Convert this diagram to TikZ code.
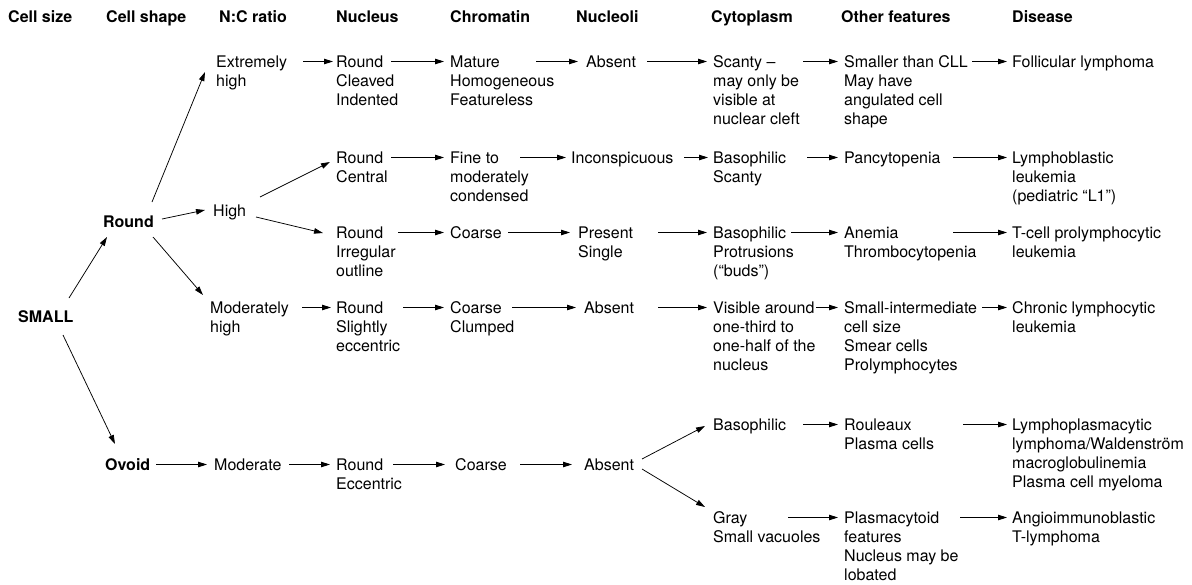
\documentclass[tikz,border=0pt]{standalone}
\usepackage{fontspec}
\setmainfont{TeX Gyre Heros}
\usetikzlibrary{arrows.meta}
\newcommand{\cellrows}[1]{\begin{tabular}[t]{@{}l@{}}#1\end{tabular}}

\begin{document}
\begin{tikzpicture}[x=1pt,y=-1pt,
    cell/.style={anchor=base west, inner sep=0pt, font=\fontsize{16}{19}\selectfont},
    head/.style={cell, font=\fontsize{16}{19}\selectfont\bfseries},
    arr/.style={-{Triangle[length=9pt,width=5.5pt]}, line width=0.75pt}]
        \useasboundingbox (0,0) rectangle (1192,584);
        % column heads
        \node[head] (hsize) at (8,22) {Cell size};
        \node[head] (hshape) at (106,22) {Cell shape};
        \node[head] (hratio) at (219,22) {N:C ratio};
        \node[head] (hnuc) at (336,22) {Nucleus};
        \node[head] (hchr) at (450,22) {Chromatin};
        \node[head] (hnuo) at (576,22) {Nucleoli};
        \node[head] (hcyt) at (711,22) {Cytoplasm};
        \node[head] (hoth) at (841,22) {Other features};
        \node[head] (hdis) at (1012,22) {Disease};
        % tree
        \node[head] (small) at (18,322) {SMALL};
        \node[head] (round) at (103,227) {Round};
        \node[head] (ovoid) at (105,470) {Ovoid};
        \node[cell] (ex) at (216,67) {\cellrows{Extremely\\high}};
        \node[cell] (high) at (213,216) {High};
        \node[cell] (mh) at (210,313) {\cellrows{Moderately\\high}};
        \node[cell] (mod) at (214,470) {Moderate};
        % extremely high
        \node[cell] (nuc1) at (336,67) {\cellrows{Round\\Cleaved\\Indented}};
        \node[cell] (chr1) at (450,67) {\cellrows{Mature\\Homogeneous\\Featureless}};
        \node[cell] (nuo1) at (586,67) {Absent};
        \node[cell] (cyt1) at (713,67) {\cellrows{Scanty –\\may only be\\visible at\\nuclear cleft}};
        \node[cell] (oth1) at (844,67) {\cellrows{Smaller than CLL\\May have\\angulated cell\\shape}};
        \node[cell] (dis1) at (1012,67) {Follicular lymphoma};
        % high, upper
        \node[cell] (nuc2) at (336,163) {\cellrows{Round\\Central}};
        \node[cell] (chr2) at (450,163) {\cellrows{Fine to\\moderately\\condensed}};
        \node[cell] (nuo2) at (571,163) {Inconspicuous};
        \node[cell] (cyt2) at (713,163) {\cellrows{Basophilic\\Scanty}};
        \node[cell] (oth2) at (844,163) {Pancytopenia};
        \node[cell] (dis2) at (1012,163) {\cellrows{Lymphoblastic\\leukemia\\(pediatric “L1”)}};
        % high, lower
        \node[cell] (nuc3) at (336,238) {\cellrows{Round\\Irregular\\outline}};
        \node[cell] (chr3) at (450,238) {Coarse};
        \node[cell] (nuo3) at (578,238) {\cellrows{Present\\Single}};
        \node[cell] (cyt3) at (713,238) {\cellrows{Basophilic\\Protrusions\\(“buds”)}};
        \node[cell] (oth3) at (844,238) {\cellrows{Anemia\\Thrombocytopenia}};
        \node[cell] (dis3) at (1012,238) {\cellrows{T-cell prolymphocytic\\leukemia}};
        % moderately high
        \node[cell] (nuc4) at (336,313) {\cellrows{Round\\Slightly\\eccentric}};
        \node[cell] (chr4) at (450,313) {\cellrows{Coarse\\Clumped}};
        \node[cell] (nuo4) at (584,313) {Absent};
        \node[cell] (cyt4) at (713,313) {\cellrows{Visible around\\one-third to\\one-half of the\\nucleus}};
        \node[cell] (oth4) at (844,313) {\cellrows{Small-intermediate\\cell size\\Smear cells\\Prolymphocytes}};
        \node[cell] (dis4) at (1012,313) {\cellrows{Chronic lymphocytic\\leukemia}};
        % ovoid
        \node[cell] (nuc5) at (336,470) {\cellrows{Round\\Eccentric}};
        \node[cell] (chr5) at (455,470) {Coarse};
        \node[cell] (nuo5) at (584,470) {Absent};
        \node[cell] (cyt5) at (713,430) {Basophilic};
        \node[cell] (oth5) at (844,430) {\cellrows{Rouleaux\\Plasma cells}};
        \node[cell] (dis5) at (1012,430) {\cellrows{Lymphoplasmacytic\\lymphoma/Waldenström\\macroglobulinemia\\Plasma cell myeloma}};
        \node[cell] (cyt6) at (713,523) {\cellrows{Gray\\Small vacuoles}};
        \node[cell] (oth6) at (844,523) {\cellrows{Plasmacytoid\\features\\Nucleus may be\\lobated}};
        \node[cell] (dis6) at (1012,523) {\cellrows{Angioimmunoblastic\\T-lymphoma}};
        % branches
        \draw[arr] ([shift={(51,-24)}]small.base west) -- ([shift={(4,10)}]round.base west);
        \draw[arr] ([shift={(45,13)}]small.base west) -- ([shift={(10,-26)}]ovoid.base west);
        \draw[arr] ([shift={(49,-25)}]round.base west) -- ([shift={(-11,5)}]ex.base west);
        \draw[arr] ([shift={(59,-8)}]round.base west) -- ([shift={(-8,-6)}]high.base west);
        \draw[arr] ([shift={(50,10)}]round.base west) -- ([shift={(-7,-18)}]mh.base west);
        \draw[arr] ([shift={(47,-19)}]high.base west) -- ([shift={(-6,-1)}]nuc2.base west);
        \draw[arr] ([shift={(43,1)}]high.base west) -- ([shift={(-13,-5)}]nuc3.base west);
        \draw[arr] ([shift={(58,-11)}]nuo5.base west) -- ([shift={(-8,-4)}]cyt5.base west);
        \draw[arr] ([shift={(58,-1)}]nuo5.base west) -- ([shift={(-8,-16)}]cyt6.base west);
        % row arrows
        \draw[arr] ([shift={(87,-5.5)}]ex.base west) -- ([shift={(-3,-5.5)}]nuc1.base west);
        \draw[arr] ([shift={(55,-5.5)}]nuc1.base west) -- ([shift={(-6,-5.5)}]chr1.base west);
        \draw[arr] ([shift={(86,-5.5)}]chr1.base west) -- ([shift={(-8,-5.5)}]nuo1.base west);
        \draw[arr] ([shift={(61,-5.5)}]nuo1.base west) -- ([shift={(-6,-5.5)}]cyt1.base west);
        \draw[arr] ([shift={(90,-5.5)}]cyt1.base west) -- ([shift={(-6,-5.5)}]oth1.base west);
        \draw[arr] ([shift={(128,-5.5)}]oth1.base west) -- ([shift={(-5,-5.5)}]dis1.base west);
        \draw[arr] ([shift={(55,-5.5)}]nuc2.base west) -- ([shift={(-6,-5.5)}]chr2.base west);
        \draw[arr] ([shift={(70,-5.5)}]chr2.base west) -- ([shift={(-5,-5.5)}]nuo2.base west);
        \draw[arr] ([shift={(113,-5.5)}]nuo2.base west) -- ([shift={(-5,-5.5)}]cyt2.base west);
        \draw[arr] ([shift={(94,-5.5)}]cyt2.base west) -- ([shift={(-6,-5.5)}]oth2.base west);
        \draw[arr] ([shift={(109,-5.5)}]oth2.base west) -- ([shift={(-5,-5.5)}]dis2.base west);
        \draw[arr] ([shift={(62,-5.5)}]nuc3.base west) -- ([shift={(-6,-5.5)}]chr3.base west);
        \draw[arr] ([shift={(58,-5.5)}]chr3.base west) -- ([shift={(-8,-5.5)}]nuo3.base west);
        \draw[arr] ([shift={(80,-5.5)}]nuo3.base west) -- ([shift={(-6,-5.5)}]cyt3.base west);
        \draw[arr] ([shift={(78,-5.5)}]cyt3.base west) -- ([shift={(-6,-5.5)}]oth3.base west);
        \draw[arr] ([shift={(109,-5.5)}]oth3.base west) -- ([shift={(-5,-5.5)}]dis3.base west);
        \draw[arr] ([shift={(92,-5.5)}]mh.base west) -- ([shift={(-5,-5.5)}]nuc4.base west);
        \draw[arr] ([shift={(67,-5.5)}]nuc4.base west) -- ([shift={(-6,-5.5)}]chr4.base west);
        \draw[arr] ([shift={(62,-5.5)}]chr4.base west) -- ([shift={(-8,-5.5)}]nuo4.base west);
        \draw[arr] ([shift={(74,-5.5)}]nuo4.base west) -- ([shift={(-6,-5.5)}]cyt4.base west);
        \draw[arr] ([shift={(103,-5.5)}]cyt4.base west) -- ([shift={(-6,-5.5)}]oth4.base west);
        \draw[arr] ([shift={(138,-5.5)}]oth4.base west) -- ([shift={(-5,-5.5)}]dis4.base west);
        \draw[arr] ([shift={(51,-5.5)}]ovoid.base west) -- ([shift={(-7,-5.5)}]mod.base west);
        \draw[arr] ([shift={(75,-5.5)}]mod.base west) -- ([shift={(-6,-5.5)}]nuc5.base west);
        \draw[arr] ([shift={(57,-5.5)}]nuc5.base west) -- ([shift={(-10,-5.5)}]chr5.base west);
        \draw[arr] ([shift={(65,-5.5)}]chr5.base west) -- ([shift={(-12,-5.5)}]nuo5.base west);
        \draw[arr] ([shift={(90,-5.5)}]cyt5.base west) -- ([shift={(-6,-5.5)}]oth5.base west);
        \draw[arr] ([shift={(119,-5.5)}]oth5.base west) -- ([shift={(-5,-5.5)}]dis5.base west);
        \draw[arr] ([shift={(75,-5.5)}]cyt6.base west) -- ([shift={(-6,-5.5)}]oth6.base west);
        \draw[arr] ([shift={(116,-5.5)}]oth6.base west) -- ([shift={(-5,-5.5)}]dis6.base west);
      \end{tikzpicture}
\end{document}
